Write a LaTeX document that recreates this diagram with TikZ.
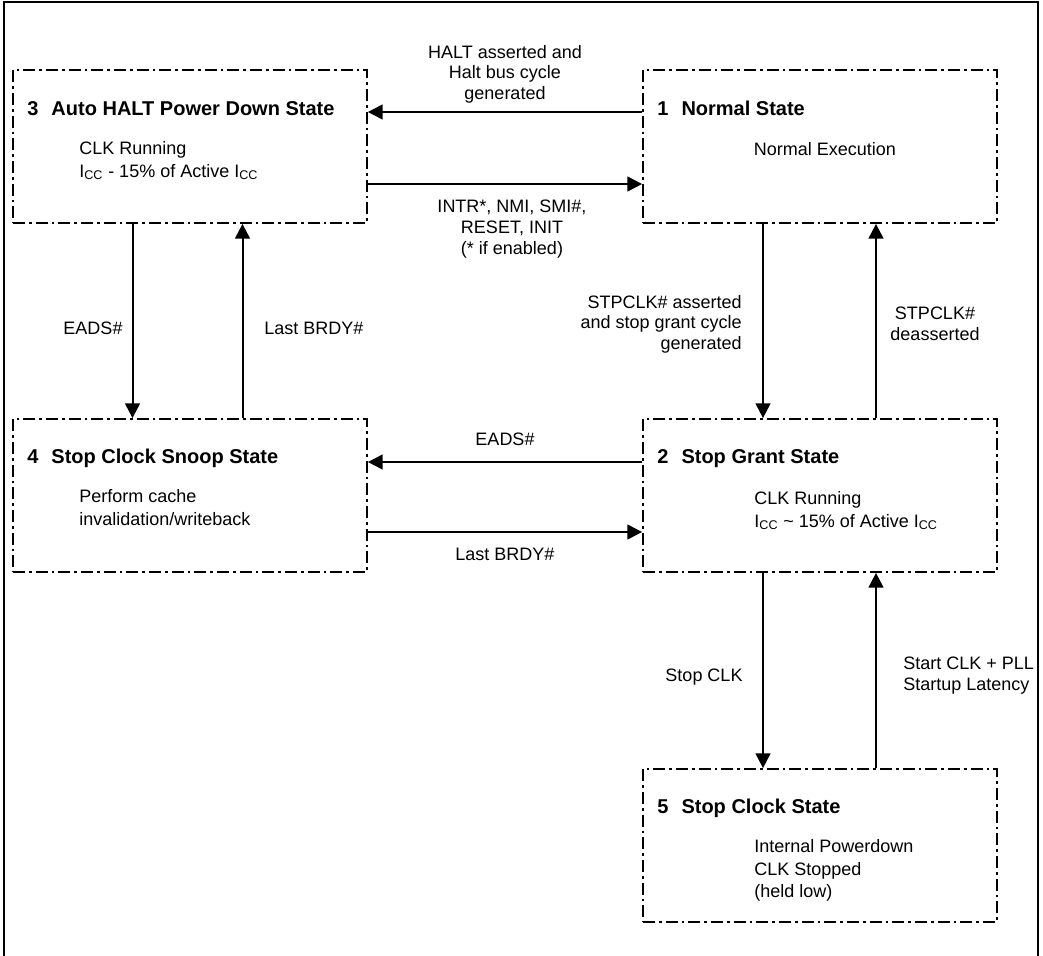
\documentclass[tikz,border=0pt]{standalone}
\usepackage{fontspec}
\setmainfont{Liberation Sans}
\usetikzlibrary{arrows.meta, calc}

\tikzset{
  state/.style={draw, line width=1.3pt, dash pattern=on 9pt off 3pt on 2pt off 3pt,
    minimum width=265.5pt, minimum height=114.75pt, inner sep=0pt},
  stitle/.style={font=\fontsize{15}{18}\selectfont\bfseries, anchor=base west, inner sep=0pt},
  sbody/.style={font=\fontsize{13.5}{17}\selectfont, align=left, anchor=north west, inner sep=0pt},
  trans/.style={line width=1.5pt, -{Triangle[length=11pt, width=11pt]}},
  tlabel/.style={font=\fontsize{13.5}{15.5}\selectfont, inner sep=0pt, anchor=north, align=center},
}

\begin{document}
\begin{tikzpicture}[x=0.75pt, y=-0.75pt]
	\useasboundingbox (0,0) rectangle (1043,956);
	
	% outer frame
	\draw[line width=1.5pt] (4,956) -- (4,2) -- (1038,2) -- (1038,956);
	
	% state boxes
	\node[state] (s3) at (190,146.5) {};
	\node[state] (s1) at (820,146.5) {};
	\node[state] (s4) at (190,495.5) {};
	\node[state] (s2) at (820,495.5) {};
	\node[state] (s5) at (820,845.5) {};
	
	% box titles
	\node[stitle] (t3) at ($(s3.north west)+(15,46)$) {3\hspace{.65em}Auto HALT Power Down State};
	\node[stitle] (t1) at ($(s1.north west)+(15,46)$) {1\hspace{.65em}Normal State};
	\node[stitle] (t4) at ($(s4.north west)+(15,45)$) {4\hspace{.65em}Stop Clock Snoop State};
	\node[stitle] (t2) at ($(s2.north west)+(15,45)$) {2\hspace{.65em}Stop Grant State};
	\node[stitle] (t5) at ($(s5.north west)+(15,45)$) {5\hspace{.65em}Stop Clock State};
	
	% box contents
	\node[sbody] (b3) at ($(s3.north west)+(67,72)$) {CLK Running\\I\textsubscript{CC} - 15\% of Active I\textsubscript{CC}};
	\node[sbody, anchor=north] (b1) at ($(s1.north)+(5,73)$) {Normal Execution};
	\node[sbody] (b4) at ($(s4.north west)+(67,71)$) {Perform cache\\invalidation/writeback};
	\node[sbody] (b2) at ($(s2.north west)+(112,73)$) {CLK Running\\I\textsubscript{CC} \textasciitilde{} 15\% of Active I\textsubscript{CC}};
	\node[sbody] (b5) at ($(s5.north west)+(112,71)$) {Internal Powerdown\\CLK Stopped\\(held low)};
	
	% transitions
	\draw[trans] ($(s1.west)+(0,-34.5)$) -- ($(s3.east)+(0,-34.5)$);
	\draw[trans] ($(s3.east)+(0,37.5)$)  -- ($(s1.west)+(0,37.5)$);
	\draw[trans] ($(s3.south)+(-57.5,0)$) -- ($(s4.north)+(-57.5,0)$);
	\draw[trans] ($(s4.north)+(52.5,0)$)  -- ($(s3.south)+(52.5,0)$);
	\draw[trans] ($(s1.south)+(-57,0)$) -- ($(s2.north)+(-57,0)$);
	\draw[trans] ($(s2.north)+(56,0)$)  -- ($(s1.south)+(56,0)$);
	\draw[trans] ($(s2.west)+(0,-33.5)$) -- ($(s4.east)+(0,-33.5)$);
	\draw[trans] ($(s4.east)+(0,36.5)$)  -- ($(s2.west)+(0,36.5)$);
	\draw[trans] ($(s2.south)+(-57,0)$) -- ($(s5.north)+(-57,0)$);
	\draw[trans] ($(s5.north)+(56,0)$)  -- ($(s2.south)+(56,0)$);
	
	% transition labels
	\node[tlabel] (l13) at (505,45) {HALT asserted and\\Halt bus cycle\\generated};
	\node[tlabel] (l31) at (512,200) {INTR*, NMI, SMI\#,\\RESET, INIT\\(* if enabled)};
	\node[tlabel] (l34) at (93,322) {EADS\#};
	\node[tlabel, anchor=north west] (l43) at (264,322) {Last BRDY\#};
	\node[tlabel, anchor=north east, align=right] (l12) at (742,295) {STPCLK\# asserted\\and stop grant cycle\\generated};
	\node[tlabel] (l21) at (935,307) {STPCLK\#\\deasserted};
	\node[tlabel] (l24) at (505,433) {EADS\#};
	\node[tlabel] (l42) at (505,548) {Last BRDY\#};
	\node[tlabel] (l25) at (704,669) {Stop CLK};
	\node[tlabel, anchor=north west, align=left] (l52) at (903,657) {Start CLK + PLL\\Startup Latency};
\end{tikzpicture}
\end{document}
